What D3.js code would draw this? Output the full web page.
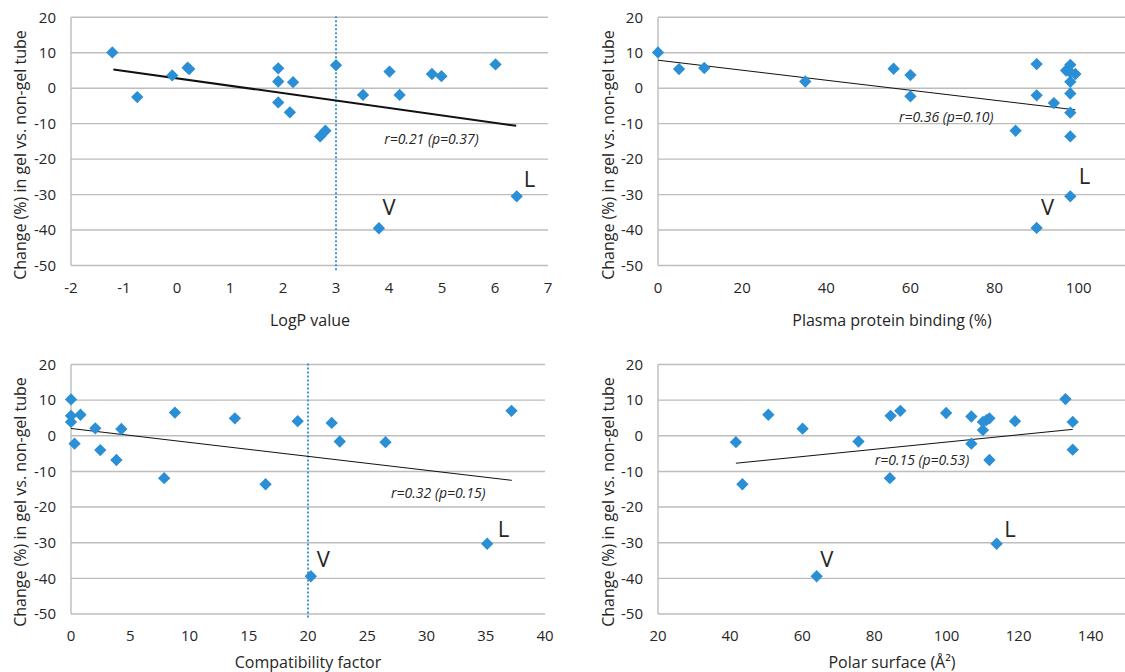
<!DOCTYPE html>
<html><head><meta charset="utf-8">
<script src="https://cdn.jsdelivr.net/npm/d3@7"></script>
<style>
body{margin:0;background:#fff;}
svg{display:block;}
text{font-family:"Open Sans",sans-serif;fill:#262626;}
</style></head>
<body>
<svg id="c" width="1125" height="672"></svg>
<script>
// ---------- data ----------
const yTicks = [-50,-40,-30,-20,-10,0,10,20];

const logpX = [-1.22,-0.75,-0.09,0.23,0.2,1.91,1.91,2.19,1.91,2.13,2.70,2.80,3.0,3.51,4.01,4.2,4.81,4.99,6.01,6.41,3.81];
const logpY = [10.1,-2.5,3.6,5.4,5.8,5.6,1.9,1.7,-4.0,-6.8,-13.6,-12.0,6.5,-1.9,4.7,-1.9,4.0,3.4,6.7,-30.5,-39.5];
const logpTicks = [-2,-1,0,1,2,3,4,5,6,7];
const logpTrendX = [-1.2,6.4], logpTrendY = [5.3,-10.6];

const ppbX = [0,5,11,35,56,60,60,90,90,94.1,85,98,97,99.2,98,98,98,98,98,98,90];
const ppbY = [10.1,5.4,5.7,1.9,5.5,3.7,-2.3,6.8,-2.0,-4.2,-12.0,6.6,5.0,4.0,4.5,1.8,-1.5,-6.9,-13.6,-30.5,-39.4];
const ppbTicks = [0,20,40,60,80,100];
const ppbTrendX = [0,99.2], ppbTrendY = [7.9,-6.1];

const cfX = [0,0,0,0.3,0.8,2.05,2.47,4.25,3.83,7.86,8.77,13.83,16.42,19.13,22.0,22.68,26.54,37.17,35.12,20.24];
const cfY = [10.2,5.6,3.9,-2.2,5.9,2.1,-4.0,1.9,-6.8,-11.9,6.5,4.9,-13.6,4.1,3.6,-1.6,-1.8,7.0,-30.3,-39.4];
const cfTicks = [0,5,10,15,20,25,30,35,40];
const cfTrendX = [0,37.2], cfTrendY = [2.05,-12.5];

const psaX = [41.6,43.4,50.6,60.1,75.6,84.5,87.2,84.3,99.9,106.9,106.9,110.1,110.1,111.1,111.9,111.9,119.0,133.0,135.0,135.0,113.9,64.0];
const psaY = [-1.8,-13.6,5.9,2.0,-1.6,5.6,7.0,-11.9,6.4,5.4,-2.2,3.9,1.6,4.4,4.9,-6.8,4.1,10.3,3.9,-3.9,-30.3,-39.4];
const psaTicks = [20,40,60,80,100,120,140];
const psaTrendX = [41.6,135], psaTrendY = [-7.7,1.8];

const yTitle = "Change (%) in gel vs. non-gel tube";

const panels = [
  {xs:logpX, ys:logpY, ticks:logpTicks, dom:[-2,7], tx:logpTrendX, ty:logpTrendY,
   stat:"r=0.21 (p=0.37)", statPos:[4.8,-14.3], V:[4.0,-33.7], L:[6.65,-25.7], cut:3,
   title:"LogP value", trendW:2},
  {xs:ppbX, ys:ppbY, ticks:ppbTicks, dom:[0,111], tx:ppbTrendX, ty:ppbTrendY,
   stat:"r=0.36 (p=0.10)", statPos:[68.5,-8.1], V:[92.6,-33.7], L:[101.4,-24.8], cut:null,
   title:"Plasma protein binding (%)", trendW:1},
  {xs:cfX, ys:cfY, ticks:cfTicks, dom:[0,40], tx:cfTrendX, ty:cfTrendY,
   stat:"r=0.32 (p=0.15)", statPos:[31,-16.2], V:[21.3,-34.6], L:[36.5,-26.1], cut:20,
   title:"Compatibility factor", trendW:1},
  {xs:psaX, ys:psaY, ticks:psaTicks, dom:[20,149.5], tx:psaTrendX, ty:psaTrendY,
   stat:"r=0.15 (p=0.53)", statPos:[93.2,-6.8], V:[66.8,-34.6], L:[117.6,-26.1], cut:null,
   title:"Polar surface (Å²)", trendW:1}
];

// ---------- layout ----------
const layout = [
  {x0:71, x1:548, y0:17.3, y1:265.5, titleX:20, titleY:155, xTitleY:320, xTitleCx:310},
  {x0:658, x1:1125, y0:17.3, y1:265.5, titleX:608, titleY:155, xTitleY:320, xTitleCx:892},
  {x0:71, x1:545, y0:364.5, y1:614, titleX:20, titleY:502, xTitleY:662, xTitleCx:308},
  {x0:658, x1:1125, y0:364.5, y1:614, titleX:608, titleY:502, xTitleY:662, xTitleCx:892}
];

const svg = d3.select("#c");
const blue = "#2b8fd6";
const diamond = d3.symbol().type(d3.symbolSquare).size(76);

panels.forEach((p,i)=>{
  const L = layout[i];
  const x = d3.scaleLinear().domain(p.dom).range([L.x0,L.x1]);
  const y = d3.scaleLinear().domain([-50,20]).range([L.y1,L.y0]);
  const g = svg.append("g");

  // gridlines
  g.selectAll("line.grid").data(yTicks).join("line")
    .attr("x1",L.x0).attr("x2",L.x1)
    .attr("y1",d=>y(d)).attr("y2",d=>y(d))
    .attr("stroke","#bdbdbd").attr("stroke-width",1.4);
  // left axis line
  g.append("line").attr("x1",L.x0).attr("x2",L.x0)
    .attr("y1",y(20)).attr("y2",y(-50))
    .attr("stroke","#bdbdbd").attr("stroke-width",1.4);

  // y tick labels
  g.selectAll("text.yt").data(yTicks).join("text")
    .attr("x",L.x0-15).attr("y",d=>y(d)).attr("dy","0.35em")
    .attr("text-anchor","end").attr("font-size",15).text(d=>d);
  // x tick labels
  g.selectAll("text.xt").data(p.ticks).join("text")
    .attr("x",d=>x(d)).attr("y",y(-50)+22).attr("dy","0.35em")
    .attr("text-anchor","middle").attr("font-size",15).text(d=>d);

  // axis titles
  g.append("text").attr("transform",`translate(${L.titleX},${L.titleY}) rotate(-90)`)
    .attr("text-anchor","middle").attr("dy","0.35em").attr("font-size",16).text(yTitle);
  g.append("text").attr("x",L.xTitleCx).attr("y",L.xTitleY)
    .attr("dy","0.35em").attr("text-anchor","middle").attr("font-size",16).text(p.title);

  // cut-off dotted line
  if(p.cut!==null){
    g.append("line").attr("x1",x(p.cut)).attr("x2",x(p.cut))
      .attr("y1",y(20.3)).attr("y2",y(-51.5))
      .attr("stroke","#3d9ad6").attr("stroke-width",2).attr("stroke-dasharray","2,2");
  }

  // trend line
  const tl = d3.line().x(d=>x(d[0])).y(d=>y(d[1]));
  g.append("path").attr("d",tl(d3.zip(p.tx,p.ty)))
    .attr("fill","none").attr("stroke","#111").attr("stroke-width",p.trendW);

  // points
  g.selectAll("path.pt").data(d3.zip(p.xs,p.ys)).join("path")
    .attr("d",diamond)
    .attr("transform",d=>`translate(${x(d[0])},${y(d[1])}) rotate(45)`)
    .attr("fill",blue);

  // stat annotation
  g.append("text").attr("x",x(p.statPos[0])).attr("y",y(p.statPos[1])).attr("dy","0.35em")
    .attr("text-anchor","middle").attr("font-size",14).attr("font-style","italic").text(p.stat);
  // V and L
  g.append("text").attr("x",x(p.V[0])).attr("y",y(p.V[1])).attr("dy","0.35em")
    .attr("text-anchor","middle").attr("font-size",22).text("V");
  g.append("text").attr("x",x(p.L[0])).attr("y",y(p.L[1])).attr("dy","0.35em")
    .attr("text-anchor","middle").attr("font-size",22).text("L");
});
</script>
</body></html>
